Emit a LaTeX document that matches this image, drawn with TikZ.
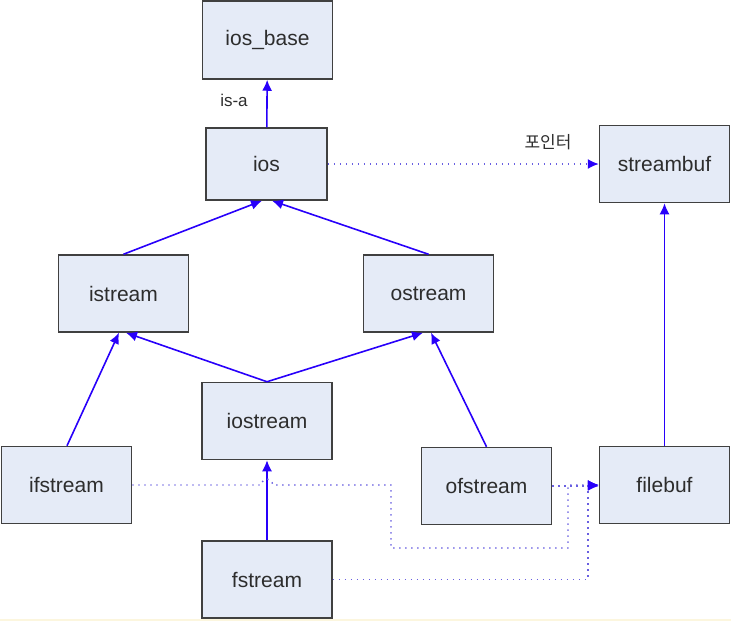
\documentclass[tikz,border=0pt]{standalone}
\usepackage{fontspec}
\setmainfont{Liberation Sans}
\newfontfamily\krfont{Noto Sans CJK KR}
\usepackage{xcolor}
\usepackage{tikz}
\usetikzlibrary{arrows.meta}

\definecolor{boxfill}{RGB}{229,235,247}
\definecolor{boxline}{RGB}{64,64,64}
\definecolor{boxtext}{RGB}{45,45,45}
\definecolor{isablue}{RGB}{40,0,250}
\definecolor{ptrblue}{RGB}{105,95,225}
\definecolor{edgeline}{RGB}{252,246,222}

\begin{document}
\begin{tikzpicture}[x=1pt, y=-1pt, >={Latex[length=11pt,width=10pt]}, font=\fontsize{21}{25}\selectfont]
		\tikzstyle{box} = [draw=boxline, fill=boxfill, text=boxtext, line width=1.5pt, rectangle, minimum width=130pt, minimum height=77pt, inner sep=0pt]
		\tikzstyle{isa} = [draw=isablue, line width=1.6pt, ->]
		\tikzstyle{ptr} = [draw=ptrblue, line width=1.4pt, dash pattern=on 1.4pt off 4.6pt, -{Latex[length=11pt,width=10pt,color=isablue]}]
		\tikzstyle{small} = [font=\fontsize{17}{20}\selectfont, text=boxtext]

		\useasboundingbox (0,0) rectangle (731,621);
		\draw[edgeline, line width=1.5pt] (0,620) -- (731,620);

		\node[box, minimum height=78pt]	at (267.5, 40)	(iosbase)	{ios\_base};
		\node[box, minimum width=121pt, minimum height=72pt]	at (266.5, 164)	(ios)	{ios};
		\node[box]	at (664.5, 164)	(streambuf)	{streambuf};

		\node[box]	at (123.5, 293.5)	(istream)	{istream};
		\node[box]	at (428.5, 293.5)	(ostream)	{ostream};
		\node[box]	at (267, 421)	(iostream)	{iostream};

		\node[box]	at (66.5, 485)	(ifstream)	{ifstream};
		\node[box]	at (486.5, 486)	(ofstream)	{ofstream};
		\node[box]	at (664.5, 485)	(filebuf)	{filebuf};
		\node[box]	at (267, 579.5)	(fstream)	{fstream};

		\node[small]	at (234, 100)	(isalabel)	{is-a};
		\node[small]	at (548, 142)	(ptrlabel)	{\krfont 포인터};

		% is-a
		\draw [isa] (ios) -- (iosbase);
		\draw [isa] (istream.north) -- ([xshift=-4.5pt]ios.south);
		\draw [isa] (ostream.north) -- ([xshift=5.5pt]ios.south);
		\draw [isa] (iostream.north) -- ([xshift=2.5pt]istream.south);
		\draw [isa] (iostream.north) -- ([xshift=-5.5pt]ostream.south);
		\draw [isa] ([xshift=0.5pt]ifstream.north) -- ([xshift=-4.5pt]istream.south);
		\draw [isa] (ofstream.north) -- ([xshift=2.5pt]ostream.south);
		\draw [isa] (fstream) -- (iostream);
		\draw [isa] (filebuf) -- (streambuf);

		% pointers
		\coordinate (hop) at (261, 485);
		\coordinate (dropA) at (391, 485);
		\coordinate (riseA) at (568, 548);
		\coordinate (riseB) at (588, 579.5);

		\draw [ptr] (ios) -- (streambuf);
		\draw [ptr] (ifstream.east) -- (hop) .. controls (263, 477) and (271, 477) .. (273, 485) -- (dropA) |- (riseA) -- (riseA |- filebuf.west) -- (filebuf.west);
		\draw [ptr] (ofstream.east) -- (ofstream.east -| filebuf.west);
		\draw [ptr] (fstream.east) -- (riseB) -- (riseB |- filebuf.west) -- (filebuf.west);
	\end{tikzpicture}
\end{document}
